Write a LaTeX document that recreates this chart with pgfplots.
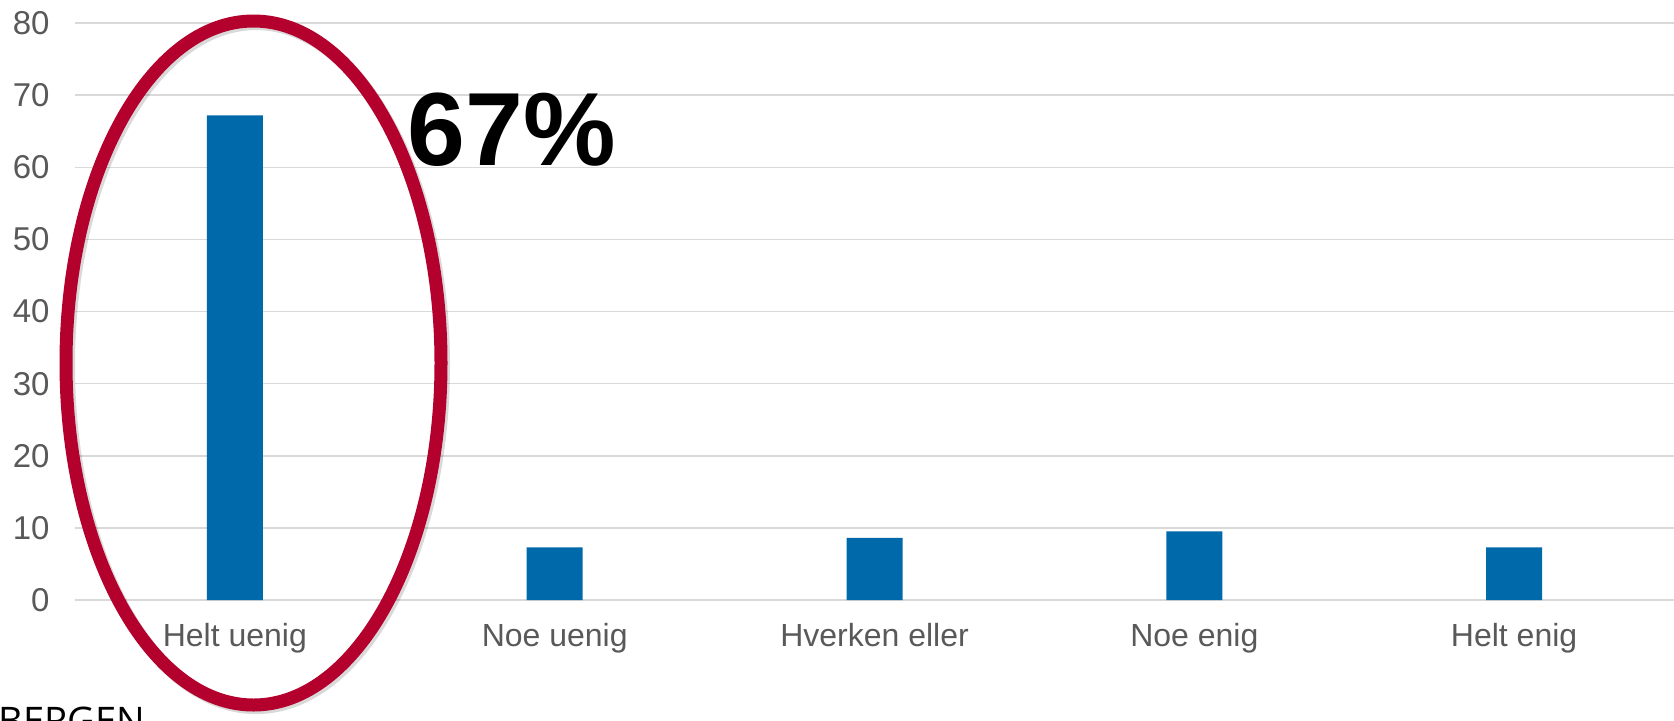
\documentclass[border=0pt]{standalone}
\usepackage{fontspec}
\setmainfont{Liberation Sans}
\newfontfamily\logofont{Open Sans}
\usepackage{pgfplots}
\pgfplotsset{compat=1.18}
\definecolor{barblue}{RGB}{0,105,170}
\definecolor{ringred}{RGB}{180,0,45}
\definecolor{gridgray}{RGB}{217,217,217}
\definecolor{labelgray}{RGB}{89,89,89}

\begin{document}
\begin{tikzpicture}
\begin{axis}[
    at={(0pt,0pt)}, anchor=south west,
    scale only axis,
    width=799.5pt, height=288.5pt,
    xmin=-0.5, xmax=4.5,
    ymin=0, ymax=80,
    ytick={0,10,...,80},
    xtick=data,
    xticklabels={Helt uenig, Noe uenig, Hverken eller, Noe enig, Helt enig},
    axis lines=left,
    axis line style={draw=none},
    major tick length=0pt,
    ymajorgrids=true,
    grid style={gridgray, line width=0.75pt},
    /pgf/number format/assume math mode=true,
    ticklabel style={text=labelgray},
    yticklabel style={font=\fontsize{16.5}{18}\selectfont, xshift=-9.2pt},
    xticklabel style={font=\fontsize{16}{18}\selectfont, yshift=-8.2pt},
]
\addplot[ybar, bar width=28pt, fill=barblue, draw=none]
    coordinates {(0,67.2)(1,7.3)(2,8.6)(3,9.5)(4,7.3)};
\end{axis}

% ring round the first bar
\draw[black, opacity=0.15, line width=6.5pt] (90.5pt,117.2pt) ellipse [x radius=93.75pt, y radius=171pt];
\draw[ringred, line width=6.5pt] (89.25pt,118.5pt) ellipse [x radius=93.75pt, y radius=171pt];

\node[anchor=base west, inner sep=0pt, font=\fontsize{52}{60}\selectfont\bfseries]
    at (166pt,217.5pt) {67\%};

\begin{scope}
\clip (-37.5pt,-60pt) rectangle (799.5pt,300pt);
\node[anchor=base west, inner sep=0pt, font=\logofont\fontsize{19}{20}\selectfont]
    at (-38.5pt,-67.2pt) {BERGEN};
\end{scope}

\pgfresetboundingbox
\path (-37.5pt,-60pt) rectangle (799.5pt,300pt);
\end{tikzpicture}
\end{document}
